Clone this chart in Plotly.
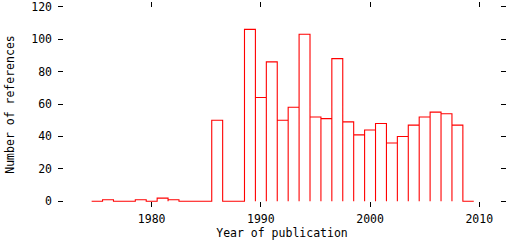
import plotly.graph_objects as go

years = list(range(1975, 2010))
counts = [0, 1, 0, 0, 1, 0, 2, 1, 0, 0, 0, 50, 0, 0, 106, 64, 86, 50, 58, 103,
          52, 51, 88, 49, 41, 44, 48, 36, 40, 47, 52, 55, 54, 47, 0]

x_ticks = [1980, 1990, 2000, 2010]
y_ticks = [0, 20, 40, 60, 80, 100, 120]

# build histogram outline (step) from bins of width 1 centred on each year
xs, ys = [], []
for yr, c in zip(years, counts):
    xs += [yr - 0.5, yr - 0.5, yr + 0.5, yr + 0.5]
    ys += [0, c, c, 0]

fig = go.Figure()
fig.add_trace(go.Scatter(x=xs, y=ys, mode="lines",
                         line=dict(color="#ff0000", width=1.1), hoverinfo="skip"))

font = dict(family="DejaVu Sans Mono", size=11, color="black")
fig.update_layout(
    width=512, height=240,
    margin=dict(l=58, r=6, t=0, b=33),
    paper_bgcolor="white", plot_bgcolor="white",
    showlegend=False,
    font=font,
    xaxis=dict(range=[1971.42, 2012.45], tickvals=x_ticks, ticks="inside",
               ticklen=5, tickcolor="black", tickwidth=1, mirror="ticks",
               showline=False, showgrid=False, zeroline=False,
               title=dict(text="Year of publication", font=dict(size=11.5), standoff=4),
               tickfont=dict(size=11.5), ticklabelstandoff=3,
               ticklabeloverflow="allow"),
    yaxis=dict(range=[-3.5, 122.9], tickvals=y_ticks, ticks="inside",
               ticklen=5, tickcolor="black", tickwidth=1, mirror="ticks",
               showline=False, showgrid=False, zeroline=False,
               title=dict(text="Number of references", font=dict(size=11.5), standoff=14),
               tickfont=dict(size=11.5), ticklabelstandoff=5,
               ticklabeloverflow="allow"),
)
fig.write_html("out.html")
